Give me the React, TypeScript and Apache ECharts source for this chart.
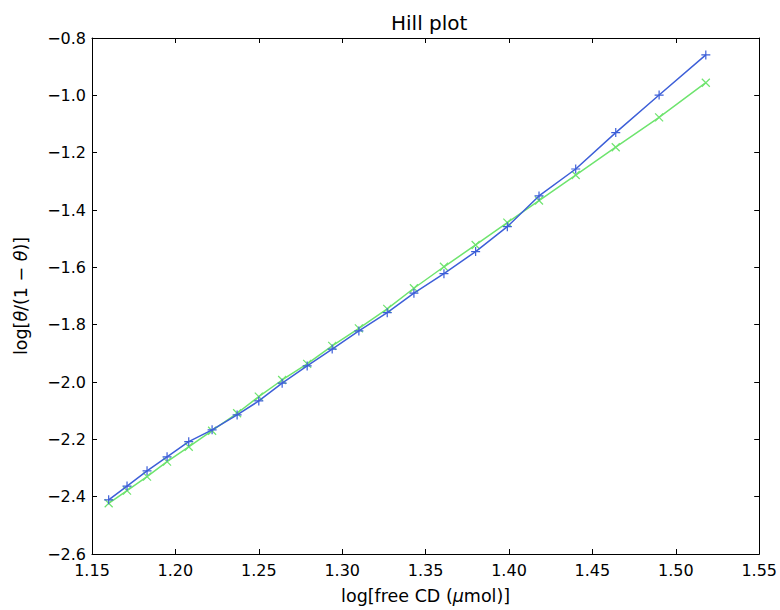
import React, { useEffect, useRef } from "react";
import * as echarts from "echarts";

const xValues = [1.160, 1.171, 1.183, 1.195, 1.208, 1.222, 1.237, 1.250, 1.264, 1.279, 1.294, 1.310, 1.327, 1.343, 1.361, 1.380, 1.399, 1.418, 1.440, 1.464, 1.490, 1.518];
const blueValues = [-2.411, -2.363, -2.310, -2.261, -2.208, -2.167, -2.115, -2.066, -2.004, -1.944, -1.885, -1.822, -1.758, -1.690, -1.622, -1.545, -1.458, -1.351, -1.257, -1.130, -0.999, -0.859];
const greenValues = [-2.423, -2.379, -2.330, -2.278, -2.226, -2.170, -2.109, -2.051, -1.993, -1.937, -1.874, -1.813, -1.745, -1.673, -1.598, -1.522, -1.444, -1.367, -1.278, -1.181, -1.077, -0.956];

const titleText = "Hill plot";
const FONT = "DejaVu Sans";

export default function App() {
  const ref = useRef<HTMLDivElement>(null);
  useEffect(() => {
    if (!ref.current) return;
    const chart = echarts.init(ref.current, undefined, { renderer: "svg" });
    const fmtY = (v: number) => v.toFixed(1).replace("-", "\u2212");
    const fmtX = (v: number) => v.toFixed(2);
    const axisLine = { show: true, lineStyle: { color: "#000", width: 1 } };
    const tick = { show: true, inside: true, length: 5, lineStyle: { color: "#000" } };
    const labelStyle = { color: "#000", fontFamily: FONT, fontSize: 16 };
    const plus = "path://M0,-1 L0,1 M-1,0 L1,0";
    const cross = "path://M-1,-1 L1,1 M-1,1 L1,-1";
    const nameRich = {
      n: { fontFamily: FONT, fontSize: 17.5, color: "#000" },
      i: { fontFamily: FONT, fontSize: 17.5, color: "#000", fontStyle: "italic" },
    };
    chart.setOption({
      animation: false,
      backgroundColor: "#fff",
      title: {
        text: titleText,
        left: 386,
        top: 8,
        textStyle: { color: "#000", fontFamily: FONT, fontSize: 20, fontWeight: "normal" },
      },
      grid: { left: 92, right: 20, top: 38, bottom: 56 },
      xAxis: [
        {
          type: "value",
          min: 1.15,
          max: 1.55,
          interval: 0.05,
          axisLine,
          axisTick: tick,
          splitLine: { show: false },
          axisLabel: { ...labelStyle, margin: 8, formatter: fmtX },
          name: "{n|log[free CD (}{i|\u03bc}{n|mol)]}",
          nameLocation: "middle",
          nameGap: 33,
          nameTextStyle: { rich: nameRich },
        },
        {
          type: "value",
          position: "top",
          min: 1.15,
          max: 1.55,
          interval: 0.05,
          axisLine,
          axisTick: tick,
          splitLine: { show: false },
          axisLabel: { show: false },
        },
      ],
      yAxis: [
        {
          type: "value",
          min: -2.6,
          max: -0.8,
          interval: 0.2,
          axisLine,
          axisTick: tick,
          splitLine: { show: false },
          axisLabel: { ...labelStyle, margin: 6, formatter: fmtY },
          name: "{n|log[}{i|\u03b8}{n|/(1 \u2212 }{i|\u03b8}{n|)]}",
          nameLocation: "middle",
          nameGap: 62,
          nameRotate: 90,
          nameTextStyle: { rich: nameRich },
        },
        {
          type: "value",
          position: "right",
          min: -2.6,
          max: -0.8,
          interval: 0.2,
          axisLine,
          axisTick: tick,
          splitLine: { show: false },
          axisLabel: { show: false },
        },
      ],
      series: [
        {
          type: "line",
          data: xValues.map((x, i) => [x, blueValues[i]]),
          lineStyle: { color: "#3d5fd8", width: 1.5 },
          symbol: plus,
          symbolSize: 9,
          showAllSymbol: true,
          itemStyle: { color: "none", borderColor: "#3d5fd8", borderWidth: 1.2 },
          z: 3,
        },
        {
          type: "line",
          data: xValues.map((x, i) => [x, greenValues[i]]),
          lineStyle: { color: "#6ee46e", width: 1.5 },
          symbol: cross,
          symbolSize: 8,
          showAllSymbol: true,
          itemStyle: { color: "none", borderColor: "#6ee46e", borderWidth: 1.2 },
          z: 2,
        },
      ],
    });
    return () => chart.dispose();
  }, []);
  return <div ref={ref} style={{ position: "fixed", left: 0, top: 0, width: 780, height: 610 }} />;
}
